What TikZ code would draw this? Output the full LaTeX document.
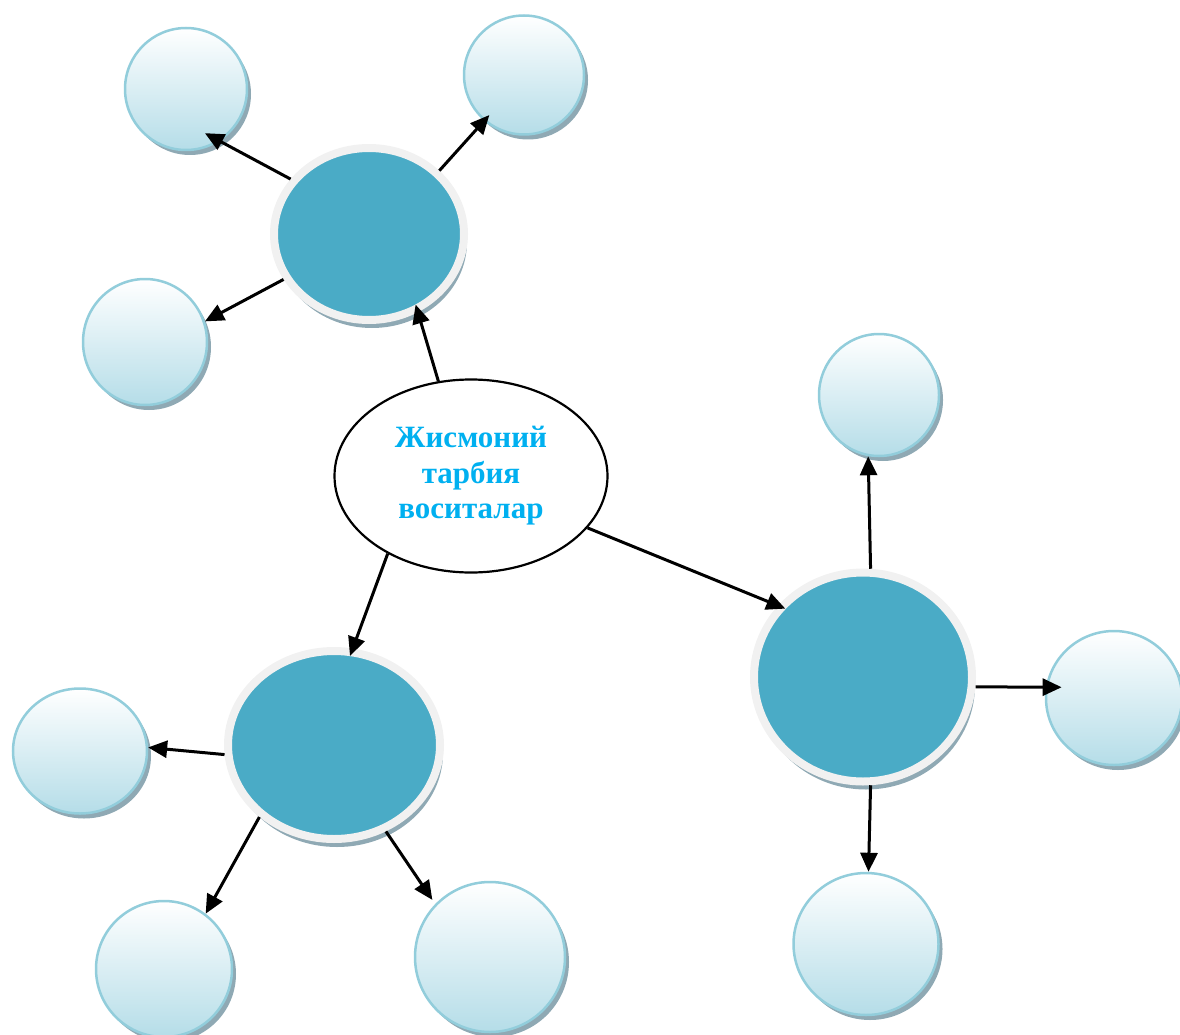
\documentclass[tikz,border=0pt]{standalone}
\usepackage{fontspec}
\setmainfont{Liberation Serif}
\usetikzlibrary{arrows.meta,shapes.geometric,shadows}

\definecolor{hubfill}{HTML}{4AABC6}
\definecolor{ringgrey}{HTML}{F1F1F1}
\definecolor{leafedge}{HTML}{92CDDB}
\definecolor{leafbottom}{HTML}{B5DDE8}
\definecolor{shadowgrey}{HTML}{8FA9B4}
\definecolor{titleblue}{HTML}{00B0F0}

\tikzset{
  hub/.style={ellipse, fill=hubfill, draw=ringgrey, line width=8pt, inner sep=0pt,
    drop shadow={shadow xshift=3pt, shadow yshift=-8pt, fill=shadowgrey, opacity=1}},
  leaf/.style={ellipse, draw=leafedge, line width=2.5pt, top color=white,
    bottom color=leafbottom, inner sep=0pt,
    drop shadow={shadow xshift=4pt, shadow yshift=-5pt, fill=shadowgrey, opacity=1}},
  arr/.style={-{Triangle[length=19pt,width=17pt]}, line width=3pt}
}

\begin{document}
\begin{tikzpicture}[x=1pt,y=-1pt]
        \useasboundingbox (0,0) rectangle (1180,1035);

        % Centre ellipse
        \node[ellipse, draw, line width=2.2pt, fill=white, inner sep=0pt,
              minimum width=273, minimum height=193, align=center,
              text=titleblue, font=\bfseries\fontsize{31}{35.5}\selectfont]
              (C) at (471,476) {Жисмоний\\тарбия\\воситалар};

        % The three hubs
        \node[hub, minimum width=190, minimum height=172] (B_1) at (369,234) {};
        \node[hub, minimum width=212, minimum height=188] (B_2) at (334,745) {};
        \node[hub, minimum width=218, minimum height=209] (B_3) at (863,677) {};

        % The small circles
        \node[leaf, minimum width=122, minimum height=122] (S_1) at (186,89) {};
        \node[leaf, minimum width=120, minimum height=119] (S_2) at (524,75) {};
        \node[leaf, minimum width=124, minimum height=126] (S_3) at (145,342) {};
        \node[leaf, minimum width=120, minimum height=122] (S_4) at (879,395) {};
        \node[leaf, minimum width=136, minimum height=134] (S_5) at (1114,698) {};
        \node[leaf, minimum width=145, minimum height=142] (S_6) at (866,944) {};
        \node[leaf, minimum width=134, minimum height=125] (S_7) at (80,751) {};
        \node[leaf, minimum width=136, minimum height=136] (S_8) at (164,969) {};
        \node[leaf, minimum width=150, minimum height=150] (S_9) at (490,957) {};

        % Arrows from the centre
        \draw[arr, shorten >=-8pt] (C.109) -- (B_1.-58);
        \draw[arr, shorten >=-8pt] (C.-137) -- (B_2.79);
        \draw[arr, shorten >=-8pt] (C.-24) -- (B_3.140);

        % Arrows from the hubs
        \draw[arr, shorten >=-17pt] (B_1.145) -- (S_1.-57);
        \draw[arr, shorten >=-8pt] (B_1.42) -- (S_2.-131);
        \draw[arr] (B_1.-152) -- (S_3.19);
        \draw[arr] (B_3.86) -- (S_4.-100);
        \draw[arr, shorten >=-16pt] (B_3.-5) -- (S_5.171);
        \draw[arr] (B_3.-86) -- (S_6.88);
        \draw[arr] (B_2.-175) -- (S_7.3);
        \draw[arr] (B_2.-136) -- (S_8.53);
        \draw[arr, shorten >=5pt] (B_2.-59) -- (S_9.136);
    \end{tikzpicture}
\end{document}
